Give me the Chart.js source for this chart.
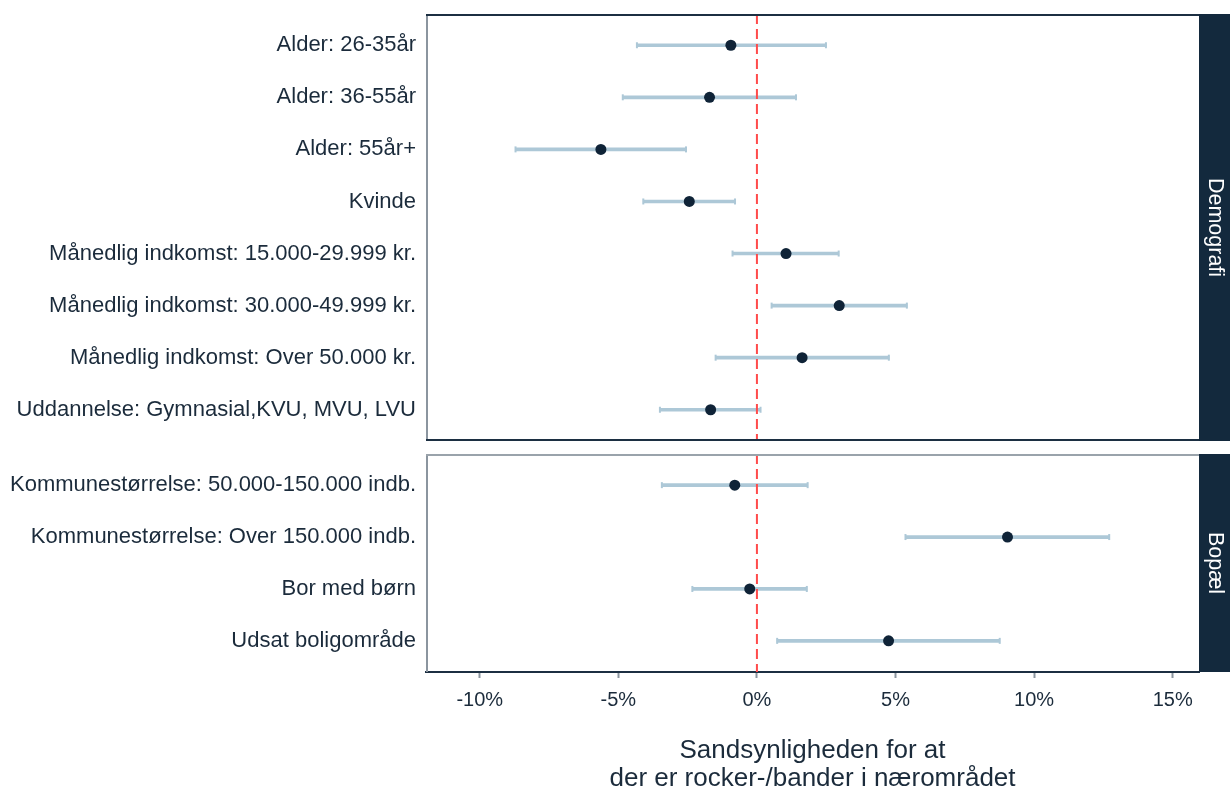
<!DOCTYPE html>
<html>
<head>
<meta charset="utf-8">
<script src="https://cdn.jsdelivr.net/npm/chart.js@4"></script>
<style>
  body { margin: 0; background: #fff; }
  #wrap { position: relative; width: 1230px; height: 789px; }
  canvas { position: absolute; left: 0; }
</style>
</head>
<body>
<div id="wrap">
  <canvas id="top" width="1230" height="447" style="top:0"></canvas>
  <canvas id="bottom" width="1230" height="342" style="top:447px"></canvas>
</div>
<script>
// Demografi panel
const demoLabels = [
  "Alder: 26-35år",
  "Alder: 36-55år",
  "Alder: 55år+",
  "Kvinde",
  "Månedlig indkomst: 15.000-29.999 kr.",
  "Månedlig indkomst: 30.000-49.999 kr.",
  "Månedlig indkomst: Over 50.000 kr.",
  "Uddannelse: Gymnasial,KVU, MVU, LVU"
];
const demoEst  = [-0.94, -1.71, -5.63, -2.44, 1.05, 2.97, 1.63, -1.67];
const demoLow  = [-4.33, -4.84, -8.71, -4.10, -0.88, 0.53, -1.49, -3.50];
const demoHigh = [2.49, 1.41, -2.56, -0.79, 2.95, 5.41, 4.76, 0.13];

// Bopæl panel
const boLabels = [
  "Kommunestørrelse: 50.000-150.000 indb.",
  "Kommunestørrelse: Over 150.000 indb.",
  "Bor med børn",
  "Udsat boligområde"
];
const boEst  = [-0.80, 9.04, -0.26, 4.75];
const boLow  = [-3.43, 5.36, -2.33, 0.73];
const boHigh = [1.83, 12.71, 1.80, 8.76];

const xTicks = [-10, -5, 0, 5, 10, 15];
const xMin = -11.94, xMax = 15.95;

const FONT = "'Liberation Sans', Arial, sans-serif";
const TEXT = "#1b2b3b";
const NAVY = "#13293d";
const WHISK = "#adc8d7";
const GREY = "#8b959f";

const panelPlugin = {
  id: "panel",
  afterDatasetDraw(chart, args, opts) {
    if (args.index !== 1) return;
    const { ctx, chartArea } = chart;
    const x = chart.scales.x.getPixelForValue(0);
    ctx.save();
    ctx.strokeStyle = "#ff4b4b";
    ctx.lineWidth = 2;
    ctx.setLineDash([10, 5]);
    ctx.beginPath();
    ctx.moveTo(x, chartArea.top);
    ctx.lineTo(x, chartArea.bottom);
    ctx.stroke();
    ctx.restore();
  },
  afterDraw(chart, args, opts) {
    const { ctx, chartArea: a } = chart;
    ctx.save();
    ctx.lineWidth = 2;
    // left border
    ctx.strokeStyle = GREY;
    ctx.beginPath();
    ctx.moveTo(a.left + 1, a.top);
    ctx.lineTo(a.left + 1, a.bottom);
    ctx.stroke();
    ctx.strokeStyle = opts.topColor;
    ctx.beginPath();
    ctx.moveTo(a.left, a.top + 1);
    ctx.lineTo(a.right, a.top + 1);
    ctx.stroke();
    if (opts.bottomColor) {
      ctx.strokeStyle = opts.bottomColor;
      ctx.beginPath();
      ctx.moveTo(a.left, a.bottom - 1);
      ctx.lineTo(a.right, a.bottom - 1);
      ctx.stroke();
    }
    ctx.fillStyle = NAVY;
    ctx.fillRect(a.right, a.top, 31, a.bottom - a.top);
    ctx.translate(a.right + 16, (a.top + a.bottom) / 2);
    ctx.rotate(Math.PI / 2);
    ctx.fillStyle = "#fff";
    ctx.font = "21.5px " + FONT;
    ctx.textAlign = "center";
    ctx.textBaseline = "middle";
    ctx.fillText(opts.strip, 0, 0);
    ctx.restore();
  }
};

function makeChart(id, labels, est, low, high, opts) {
  const idx = labels.map((_, i) => i);
  return new Chart(document.getElementById(id), {
    type: "scatter",
    data: {
      datasets: [
        {
          type: "bar",
          indexAxis: "y",
          data: idx.map(i => ({ y: i, x: [low[i], high[i]] })),
          backgroundColor: WHISK,
          borderWidth: 0,
          barThickness: 3,
          order: 3
        },
        {
          data: idx.flatMap(i => [{ x: low[i], y: i }, { x: high[i], y: i }]),
          pointStyle: "line",
          rotation: 90,
          pointRadius: 3,
          borderColor: WHISK,
          borderWidth: 2,
          order: 2
        },
        {
          data: idx.map(i => ({ x: est[i], y: i })),
          pointRadius: 5.5,
          backgroundColor: "#0f2337",
          borderWidth: 0,
          order: 1
        }
      ]
    },
    options: {
      responsive: false,
      animation: false,
      events: [],
      layout: { padding: opts.padding, autoPadding: false },
      plugins: {
        legend: { display: false },
        tooltip: { enabled: false },
        panel: { strip: opts.strip, topColor: opts.topColor, bottomColor: opts.bottomColor }
      },
      scales: {
        y: {
          type: "linear",
          reverse: true,
          offset: false,
          min: -0.6,
          max: labels.length - 0.4,
          afterBuildTicks: s => { s.ticks = idx.map(i => ({ value: i })); },
          afterFit: s => { s.width = 426; s.paddingTop = 0; s.paddingBottom = 0; },
          ticks: {
            autoSkip: false,
            callback: v => labels[v],
            font: { family: FONT, size: 22 },
            color: TEXT,
            padding: 10
          },
          grid: { drawOnChartArea: false, drawTicks: false },
          border: { display: false }
        },
        x: opts.showX ? {
          type: "linear",
          offset: false,
          min: xMin,
          max: xMax,
          afterBuildTicks: s => { s.ticks = xTicks.map(v => ({ value: v })); },
          afterFit: s => { s.height = 117; s.paddingLeft = 0; s.paddingRight = 0; },
          ticks: {
            callback: v => v + "%",
            font: { family: FONT, size: 20 },
            color: TEXT,
            padding: 10,
            maxRotation: 0
          },
          grid: { drawOnChartArea: false, tickLength: 6, tickColor: GREY, tickWidth: 2 },
          border: { color: "#1c2f42", width: 2 },
          title: {
            display: true,
            text: ["Sandsynligheden for at", "der er rocker-/bander i nærområdet"],
            font: { family: FONT, size: 26, lineHeight: 1.05 },
            color: TEXT,
            padding: { top: 0, bottom: -3 }
          }
        } : {
          type: "linear",
          display: false,
          offset: false,
          min: xMin,
          max: xMax
        }
      }
    },
    plugins: [panelPlugin]
  });
}

makeChart("top", demoLabels, demoEst, demoLow, demoHigh, {
  padding: { top: 14, right: 31, bottom: 6, left: 0 },
  strip: "Demografi",
  topColor: "#1c2f42",
  bottomColor: "#1c2f42",
  showX: false
});

makeChart("bottom", boLabels, boEst, boLow, boHigh, {
  padding: { top: 7, right: 31, bottom: 0, left: 0 },
  strip: "Bopæl",
  topColor: "#9aa3ab",
  bottomColor: null,
  showX: true
});
</script>
</body>
</html>
